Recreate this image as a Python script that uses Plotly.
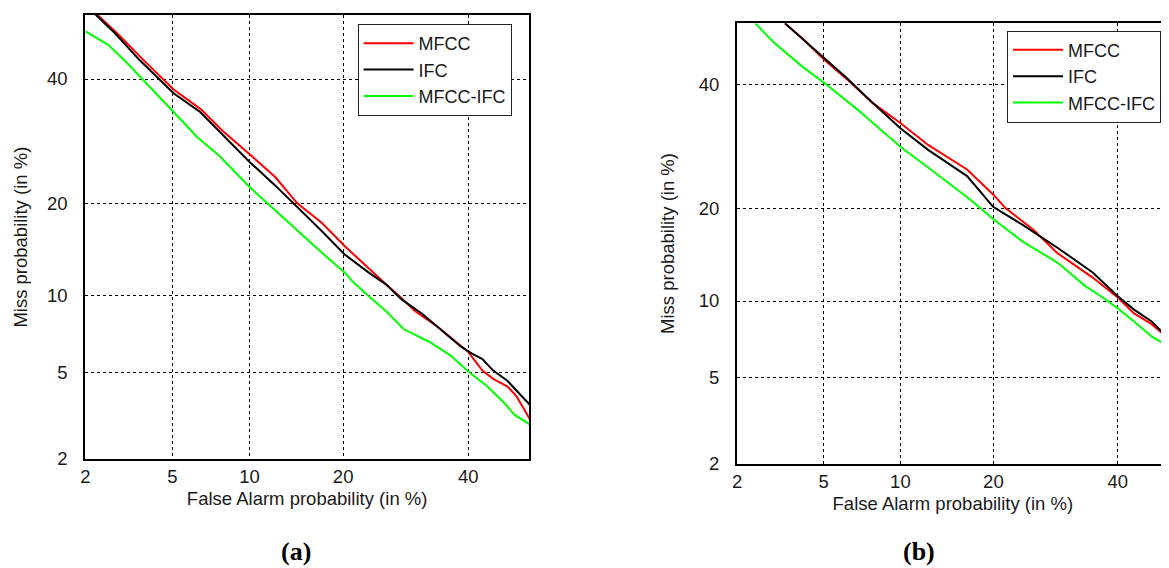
from statistics import NormalDist
import plotly.graph_objects as go

# ---------------- data (percent) ----------------
TICK_VALUES = [2, 5, 10, 20, 40]
TICK_LABELS = ["2", "5", "10", "20", "40"]
SERIES_NAMES = ["MFCC", "IFC", "MFCC-IFC"]

# Panel (a)
A_MFCC_FA = [2.28, 2.88, 3.75, 5.06, 6.53, 7.9, 10.0, 12.3, 14.5, 17.3, 20.2, 23.5, 26.1, 28.6,
             30.7, 34.3, 36.8, 40.0, 42.6, 44.6, 47.3, 49.0, 50.3, 51.5]
A_MFCC_MISS = [52.1, 48.3, 43.5, 38.1, 34.6, 31.0, 27.1, 23.6, 20.0, 17.5, 14.8, 12.5, 11.0, 9.8,
               8.8, 7.75, 7.0, 6.1, 5.1, 4.7, 4.35, 3.93, 3.48, 3.09]
A_IFC_FA = [2.24, 2.77, 3.6, 5.06, 6.5, 7.9, 10.0, 12.3, 14.1, 17.3, 20.2, 23.5, 26.1, 28.6,
            31.9, 35.6, 38.7, 40.7, 42.6, 44.6, 47.3, 49.3, 51.5]
A_IFC_MISS = [52.1, 48.6, 43.5, 37.4, 34.1, 30.4, 25.9, 22.4, 20.0, 16.5, 13.9, 12.1, 11.0, 9.7,
              8.6, 7.3, 6.4, 6.0, 5.7, 5.1, 4.6, 4.1, 3.6]
A_MIX_FA = [2.0, 2.57, 3.12, 3.75, 5.06, 6.3, 7.7, 10.0, 12.0, 14.5, 17.3, 20.2, 21.2, 23.5,
            26.1, 28.9, 33.1, 36.8, 40.0, 43.3, 46.6, 48.6, 51.5]
A_MIX_MISS = [48.9, 46.4, 43.2, 39.8, 34.1, 29.9, 26.9, 22.2, 19.4, 16.5, 14.1, 12.1, 11.3, 10.0,
              8.8, 7.5, 6.7, 5.9, 5.05, 4.4, 3.7, 3.25, 2.93]

# Panel (b)
B_MFCC_FA = [3.38, 4.05, 5.06, 6.3, 7.9, 10.0, 12.5, 16.7, 20.0, 21.6, 25.7, 29.5, 35.5, 40.0,
             43.0, 46.3, 49.5, 51.4]
B_MFCC_MISS = [51.6, 48.7, 44.6, 40.9, 36.7, 33.2, 29.5, 25.6, 21.9, 20.1, 17.3, 14.6, 12.1, 10.3,
               9.0, 8.2, 7.2, 6.8]
B_IFC_FA = [3.38, 5.06, 6.3, 7.9, 10.0, 12.5, 16.7, 20.0, 24.1, 29.5, 35.5, 40.0, 43.0, 46.3,
            49.5, 51.4]
B_IFC_MISS = [51.6, 44.8, 41.1, 36.7, 32.3, 28.7, 24.6, 20.2, 17.9, 15.2, 12.6, 10.4, 9.3, 8.4,
              7.2, 6.8]
B_MIX_FA = [2.45, 3.03, 4.05, 5.17, 6.9, 10.0, 13.2, 17.1, 20.0, 24.1, 29.5, 34.2, 37.3, 40.0,
            43.0, 46.3, 49.5, 51.4]
B_MIX_MISS = [51.6, 47.8, 43.4, 40.0, 35.5, 29.2, 25.1, 21.2, 18.6, 15.9, 13.6, 11.3, 10.3, 9.4,
              8.4, 7.35, 6.7, 6.3]

COLORS = ["#ff0000", "#000000", "#00ff00"]

# ---------------- probit (normal deviate) scale ----------------
_nd = NormalDist()


def probit(values):
    return [_nd.inv_cdf(v / 100.0) for v in values]


OFF = 8  # page body margin
W, H = 1169 - OFF, 568 - OFF
FONT = "Liberation Sans, Arial, Helvetica, sans-serif"
SERIF = "Liberation Serif, Times New Roman, serif"
TXT = "#1a1a1a"

fig = go.Figure()

panel_a = [(A_MFCC_FA, A_MFCC_MISS), (A_IFC_FA, A_IFC_MISS), (A_MIX_FA, A_MIX_MISS)]
panel_b = [(B_MFCC_FA, B_MFCC_MISS), (B_IFC_FA, B_IFC_MISS), (B_MIX_FA, B_MIX_MISS)]

for (fa, miss), name, col in zip(panel_a, SERIES_NAMES, COLORS):
    fig.add_trace(go.Scatter(x=probit(fa), y=probit(miss), mode="lines", name=name,
                             line=dict(color=col, width=2), xaxis="x", yaxis="y",
                             legend="legend"))
for (fa, miss), name, col in zip(panel_b, SERIES_NAMES, COLORS):
    fig.add_trace(go.Scatter(x=probit(fa), y=probit(miss), mode="lines", name=name,
                             line=dict(color=col, width=2), xaxis="x2", yaxis="y2",
                             legend="legend2"))

tickpos = probit(TICK_VALUES)
lo = probit([2])[0] - 0.002


def px(v):
    return (v - OFF) / W


def py(v):
    return 1 - (v - OFF) / H


common_axis = dict(
    tickmode="array", tickvals=tickpos, ticktext=TICK_LABELS,
    showgrid=True, gridcolor="#000000", gridwidth=1, griddash="3px,3px",
    zeroline=False, showline=True, linecolor="#000000", linewidth=1.5,
    ticks="", ticklen=0, tickfont=dict(family=FONT, size=18.5, color=TXT),
)

title_font = dict(family=FONT, size=18.5, color=TXT)
legend_common = dict(xanchor="left", yanchor="top", bgcolor="white", bordercolor="#222222",
                     borderwidth=1, font=dict(family=FONT, size=18, color=TXT),
                     tracegroupgap=0, itemwidth=50)

fig.update_layout(
    width=W, height=H,
    margin=dict(l=0, r=0, t=0, b=0, autoexpand=False),
    paper_bgcolor="white", plot_bgcolor="white",
    font=dict(family=FONT, size=18.5, color=TXT),
    showlegend=True,
    xaxis=dict(common_axis, domain=[px(85), px(529.3)], range=[lo, 0.034], mirror=True,
               anchor="y", ticklabelstandoff=0,
               title=dict(text="False Alarm probability (in %)", standoff=6, font=title_font)),
    yaxis=dict(common_axis, domain=[py(459.3), py(15)], range=[lo, 0.050], mirror=True,
               anchor="x", ticklabelstandoff=12,
               title=dict(text="Miss probability (in %)", standoff=14, font=title_font)),
    xaxis2=dict(common_axis, domain=[px(736.7), 1.0], range=[lo, -0.011], mirror=True,
                anchor="y2", ticklabelstandoff=0,
                title=dict(text="False Alarm probability (in %)", standoff=6, font=title_font)),
    yaxis2=dict(common_axis, domain=[py(463.7), py(23.3)], range=[lo, 0.040], mirror=False,
                anchor="x2", ticklabelstandoff=12,
                title=dict(text="Miss probability (in %)", standoff=19, font=title_font)),
    legend=dict(legend_common, x=px(357.6), y=py(24)),
    legend2=dict(legend_common, x=px(1007), y=py(30.6)),
    annotations=[
        dict(text="<b>(a)</b>", x=px(296), y=py(551), xref="paper", yref="paper",
             xanchor="center", yanchor="middle", showarrow=False,
             font=dict(family=SERIF, size=26, color="#000")),
        dict(text="<b>(b)</b>", x=px(919), y=py(551), xref="paper", yref="paper",
             xanchor="center", yanchor="middle", showarrow=False,
             font=dict(family=SERIF, size=26, color="#000")),
    ],
)

fig.write_html("out.html")
